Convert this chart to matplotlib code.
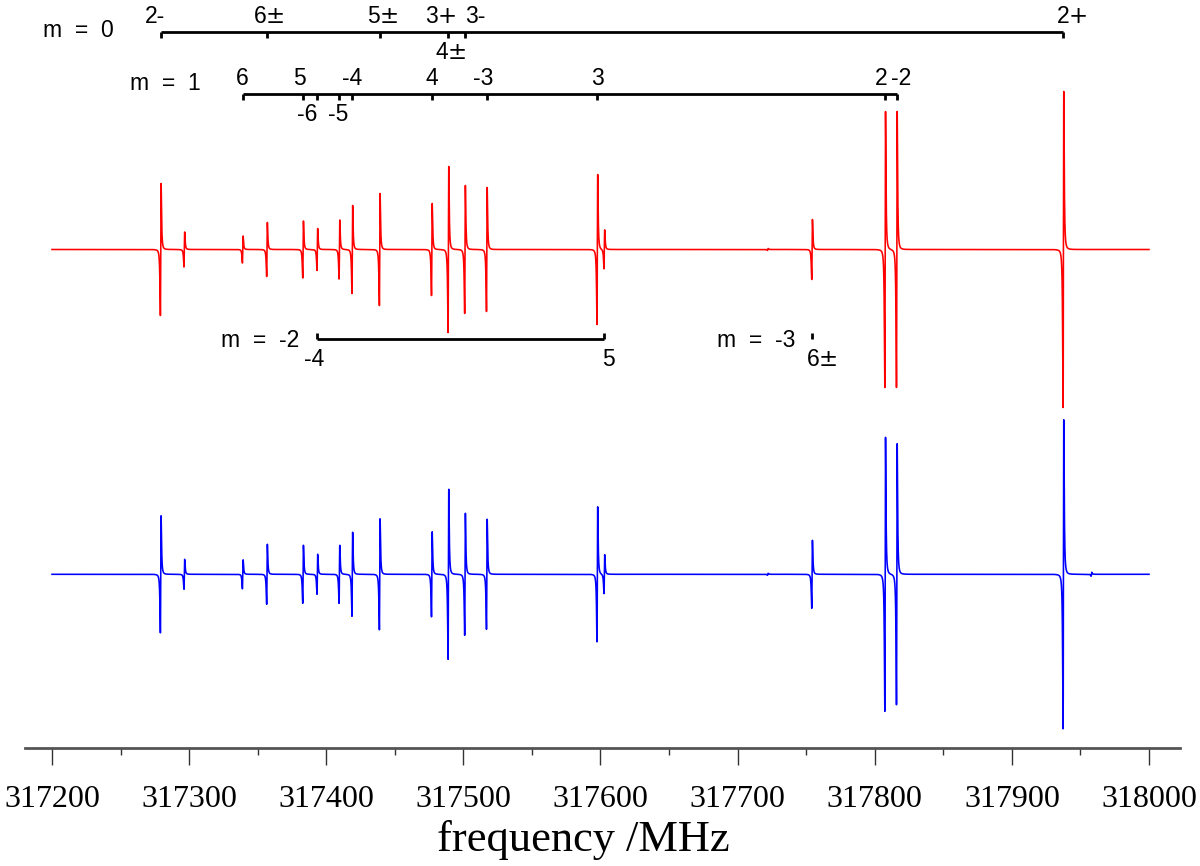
import numpy as np
import matplotlib
matplotlib.use('Agg')
import matplotlib.pyplot as plt
from matplotlib.ticker import MultipleLocator

plt.rcParams['mathtext.fontset'] = 'dejavusans'

# line centres (MHz)
line_freq = [317279.3, 317296.5, 317339.1, 317356.8, 317383.1, 317393.5,
             317409.6, 317419.0, 317439.0, 317477.0, 317489.1, 317501.2,
             317517.1, 317597.7, 317602.8, 317722.0, 317754.3, 317807.6,
             317816.1, 317937.6, 317958.0]
# positive-lobe heights (arbitrary units)
red_amp = [66, 17.5, 13.5, 27, 28.5, 21, 29.5, 44, 56, 46, 83, 64,
           62, 75, 19.5, 1.0, 30, 138, 138, 158, 0]
blue_amp = [58.5, 15, 14.5, 30, 29, 20, 29, 42, 55.5, 42.5, 85, 61,
            55, 67.5, 19.5, 1.0, 34, 137, 130.5, 154.5, 2]

# assignment ladders: (label, frequency)
m0_lines = [('2-', 317279.3), ('6$\\pm$', 317356.8), ('5$\\pm$', 317439.0),
            ('3$+$', 317489.1), ('4$\\pm$', 317489.1), ('3-', 317501.2),
            ('2$+$', 317937.6)]
m1_lines = [('6', 317339.1), ('5', 317383.1), ('-6', 317393.5),
            ('-5', 317409.6), ('-4', 317419.0), ('4', 317477.0),
            ('-3', 317517.1), ('3', 317597.7), ('2', 317807.6),
            ('-2', 317816.1)]
m2_lines = [('-4', 317393.5), ('5', 317602.8)]
m3_lines = [('6$\\pm$', 317754.3)]

ticks_major = [317200, 317300, 317400, 317500, 317600, 317700, 317800, 317900, 318000]

# layout (pixels) -- label x shift and side of the ladder
m0_lay = [(-6, 1), (2, 1), (3, 1), (-8, 1), (2, -1), (10, 1), (8, 1)]
m1_lay = [(0, 1), (-4, 1), (-10, -1), (-1, -1), (0, 1), (0, 1),
          (-4, 1), (0, 1), (-4, 1), (4, 1)]
m2_lay = [(-3, -1), (4, -1)]

H = 748  # axis height in px, data y == pixels above the axis line


def deriv(f, f0, amp, g=0.45):
    x = f - f0
    y = x / (x**2 + g**2)**2
    peak = (g / np.sqrt(3)) * 9.0 / (16 * g**4)
    return amp * y / peak


freq = np.linspace(317200, 318000, 80001)
red = np.full_like(freq, H - 249.5)
blue = np.full_like(freq, H - 574.3)
for f0, a, b in zip(line_freq, red_amp, blue_amp):
    red += deriv(freq, f0, a)
    blue += deriv(freq, f0, b)

px_per_mhz = (1149 - 52) / 800.0
def f_of(px):
    return 317200 + (px - 52) / px_per_mhz

fig = plt.figure(figsize=(12, 8.66), dpi=100)
ax = fig.add_axes([25 / 1200, 1 - 748 / 866, 1155 / 1200, 748 / 866])
ax.set_xlim(f_of(25), f_of(1180))
ax.set_ylim(0, H)

ax.plot(freq, red, color='#ff0000', lw=1.15)
ax.plot(freq, blue, color='#0000ff', lw=1.15)

lfont = dict(family='Liberation Sans', size=16.5, color='black')
lw_lad = 2.0


def ladder(lines, ypx, tick_dir, lay=None, tick=6):
    y = H - ypx
    fs = [f for _, f in lines]
    if len(set(fs)) > 1:
        ax.plot([min(fs), max(fs)], [y, y], color='black', lw=lw_lad,
                solid_capstyle='butt')
    for f in sorted(set(fs)):
        ax.plot([f, f], [y, y + tick_dir * tick], color='black', lw=lw_lad,
                solid_capstyle='butt')
    if lay is None:
        return
    for (lab, f), (dx, side) in zip(lines, lay):
        if side > 0:
            ax.annotate(lab, xy=(f, y), xytext=(dx, 4), textcoords='offset pixels',
                        ha='center', va='bottom', **lfont)
        else:
            ax.annotate(lab, xy=(f, y), xytext=(dx, -9), textcoords='offset pixels',
                        ha='center', va='top', **lfont)


ladder(m0_lines, 32, -1, m0_lay)
ladder(m1_lines, 93.5, -1, m1_lay)
ladder(m2_lines, 339, 1, m2_lay)
ladder(m3_lines, 339, 1)
ax.annotate(m3_lines[0][0], xy=(m3_lines[0][1], H - 339), xytext=(-6, -9),
            textcoords='offset pixels', ha='left', va='top', **lfont)

# ladder names
ax.annotate('m  =  0', xy=(m0_lines[0][1], H - 36.7), xytext=(-47, 0),
            textcoords='offset pixels', ha='right', va='baseline', **lfont)
ax.annotate('m  =  1', xy=(m1_lines[0][1], H - 90), xytext=(-42, 0),
            textcoords='offset pixels', ha='right', va='baseline', **lfont)
ax.annotate('m  =  -2', xy=(m2_lines[0][1], H - 347), xytext=(-18, 0),
            textcoords='offset pixels', ha='right', va='baseline', **lfont)
ax.annotate('m  =  -3', xy=(m3_lines[0][1], H - 347), xytext=(-17, 0),
            textcoords='offset pixels', ha='right', va='baseline', **lfont)

for s in ('top', 'left', 'right'):
    ax.spines[s].set_visible(False)
ax.spines['bottom'].set_linewidth(2)
ax.spines['bottom'].set_color('#555555')
ax.set_yticks([])
ax.set_xticks(ticks_major)
ax.set_xticklabels([str(t) for t in ticks_major], family='Liberation Serif', fontsize=23)
ax.xaxis.set_minor_locator(MultipleLocator(50))
ax.tick_params(axis='x', which='major', length=12.5, width=1, color='#333333', pad=14)
ax.tick_params(axis='x', which='minor', length=5, width=1, color='#333333')

ax.set_xlabel('frequency /MHz', family='Liberation Serif', fontsize=32)
ax.xaxis.set_label_coords((583 - 25) / 1155, -(840 - 748) / 748)
ax.xaxis.label.set_va('center')

fig.savefig('out.png', dpi=100)
